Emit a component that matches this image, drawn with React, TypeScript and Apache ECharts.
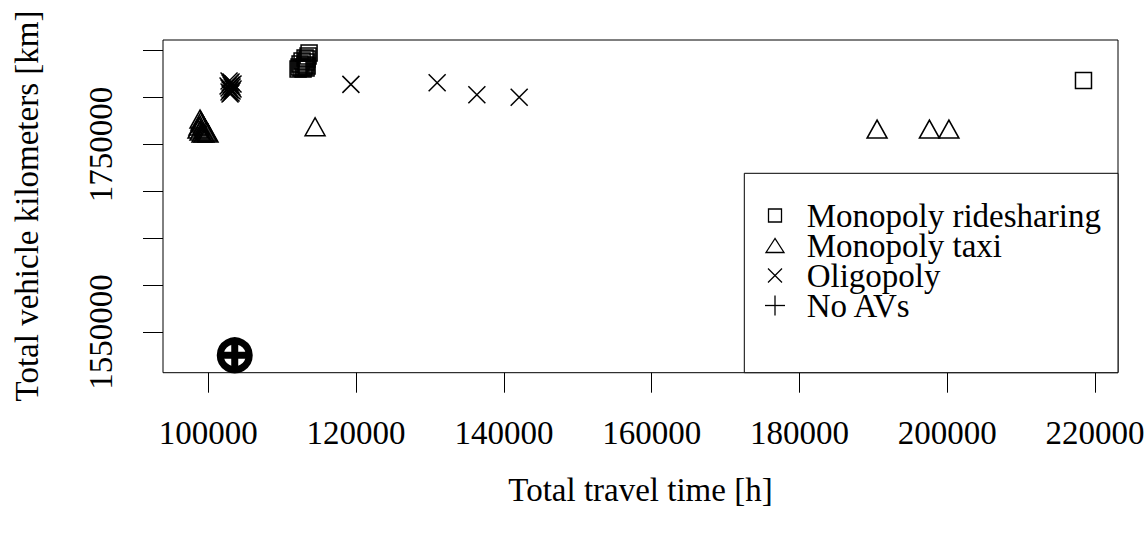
import React, { useEffect, useRef } from "react";
import * as echarts from "echarts";

const FONT = "'Liberation Serif', 'Times New Roman', serif";

// Monopoly ridesharing
const ridesharingX = [113636, 113500, 113365, 113229, 113094, 112959, 112823, 112552, 112282, 112146, 112417, 112688, 113229, 113365, 113094, 218443];
const ridesharingY = [1847441, 1844243, 1841045, 1837846, 1834648, 1832516, 1830384, 1831450, 1832516, 1830384, 1835714, 1838913, 1831450, 1833582, 1842111, 1818100];

// Monopoly taxi
const taxiX = [98876, 99012, 99147, 99283, 99418, 99553, 99689, 99824, 99959, 98605, 98741, 98876, 99147, 99418, 114448, 190508, 197590, 200230];
const taxiY = [1777079, 1774947, 1772814, 1770682, 1768550, 1766418, 1764286, 1763220, 1762154, 1766418, 1769616, 1764286, 1762154, 1762154, 1768870, 1766418, 1766418, 1766418];

// Oligopoly
const oligopolyX = [102803, 102938, 103074, 103209, 103344, 103209, 103074, 102938, 102803, 102803, 103074, 103344, 102668, 102938, 119296, 130968, 136344, 142072];
const oligopolyY = [1817591, 1815458, 1813326, 1811194, 1809062, 1806930, 1804797, 1803731, 1805864, 1810128, 1816525, 1814392, 1812260, 1807996, 1814072, 1815778, 1802985, 1800320];

// No AVs
const noAVsX = [103575];
const noAVsY = [1525160];

const xTicks = [100000, 120000, 140000, 160000, 180000, 200000, 220000];
const yTicks = [1550000, 1600000, 1650000, 1700000, 1750000, 1800000, 1850000];
const yTickLabels = [1550000, 1750000];

const legendNames = ["Monopoly ridesharing", "Monopoly taxi", "Oligopoly", "No AVs"];

const pairs = (xs: number[], ys: number[]) => xs.map((x, i) => [x, ys[i]]);

const X_PATH = "path://M0,0L10,10M10,0L0,10";
const PLUS_PATH = "path://M5,0L5,10M0,5L10,5";

export default function App() {
  const ref = useRef<HTMLDivElement>(null);
  useEffect(() => {
    if (!ref.current) return;
    const chart = echarts.init(ref.current, null, { renderer: "svg" });
    const stroke = { color: "rgba(0,0,0,0)", borderColor: "#000", borderWidth: 1.5, opacity: 1 };
    const lx = 744.3, ly = 173.3;
    const rowY = [215.5, 245.5, 275.5, 305.5];
    const symX = 775;
    const legendGraphics: any[] = [
      { type: "rect", shape: { x: lx, y: ly, width: 1118 - lx, height: 372.7 - ly }, style: { fill: "#fff", stroke: "#000", lineWidth: 1 }, z: 10 },
      { type: "rect", shape: { x: symX - 6.5, y: rowY[0] - 6.5, width: 13, height: 13 }, style: { fill: "none", stroke: "#000", lineWidth: 1.3 }, z: 11 },
      { type: "polygon", shape: { points: [[symX, rowY[1] - 7], [symX - 9, rowY[1] + 7], [symX + 9, rowY[1] + 7]] }, style: { fill: "none", stroke: "#000", lineWidth: 1.3 }, z: 11 },
      { type: "line", shape: { x1: symX - 7, y1: rowY[2] - 7, x2: symX + 7, y2: rowY[2] + 7 }, style: { stroke: "#000", lineWidth: 1.3 }, z: 11 },
      { type: "line", shape: { x1: symX + 7, y1: rowY[2] - 7, x2: symX - 7, y2: rowY[2] + 7 }, style: { stroke: "#000", lineWidth: 1.3 }, z: 11 },
      { type: "line", shape: { x1: symX - 10, y1: rowY[3], x2: symX + 10, y2: rowY[3] }, style: { stroke: "#000", lineWidth: 1.3 }, z: 11 },
      { type: "line", shape: { x1: symX, y1: rowY[3] - 10, x2: symX, y2: rowY[3] + 10 }, style: { stroke: "#000", lineWidth: 1.3 }, z: 11 },
      {
        type: "text",
        x: 806.7,
        y: (rowY[0] + rowY[3]) / 2,
        z: 11,
        style: { text: legendNames.join("\n"), font: `33px ${FONT}`, lineHeight: 30, fill: "#000", textAlign: "left", textVerticalAlign: "middle" },
      },
    ];
    chart.setOption({
      animation: false,
      backgroundColor: "#fff",
      grid: { left: 163, top: 40, right: 30, bottom: 160.3, show: true, borderColor: "#000", borderWidth: 1, backgroundColor: "transparent" },
      xAxis: {
        type: "value",
        min: 93866,
        max: 223114,
        axisLine: { show: false },
        splitLine: { show: false },
        axisTick: { show: true, length: 20, customValues: xTicks, lineStyle: { color: "#000", width: 1 } },
        axisLabel: { customValues: xTicks, fontSize: 33, fontFamily: FONT, color: "#000", margin: 44, formatter: (v: number) => String(v) },
      },
      yAxis: {
        type: "value",
        min: 1506600,
        max: 1861400,
        axisLine: { show: false },
        splitLine: { show: false },
        axisTick: { show: true, length: 20, customValues: yTicks, lineStyle: { color: "#000", width: 1 } },
        axisLabel: { customValues: yTickLabels, rotate: 90, fontSize: 33, fontFamily: FONT, color: "#000", margin: 46, formatter: (v: number) => String(v) },
      },
      graphic: [
        { type: "text", x: 640.5, y: 490, style: { text: "Total travel time [h]", font: `33px ${FONT}`, fill: "#000", textAlign: "center", textVerticalAlign: "middle" } },
        { type: "text", x: 27, y: 206, rotation: Math.PI / 2, style: { text: "Total vehicle kilometers [km]", font: `33px ${FONT}`, fill: "#000", textAlign: "center", textVerticalAlign: "middle" } },
        ...legendGraphics,
      ],
      series: [
        { type: "scatter", name: "Monopoly ridesharing", silent: true, symbol: "rect", symbolSize: 16, data: pairs(ridesharingX, ridesharingY), itemStyle: stroke },
        { type: "scatter", name: "Monopoly taxi", silent: true, symbol: "triangle", symbolSize: [20, 18], data: pairs(taxiX, taxiY), itemStyle: stroke },
        { type: "scatter", name: "Oligopoly", silent: true, symbol: X_PATH, symbolSize: 17, data: pairs(oligopolyX, oligopolyY), itemStyle: stroke },
        { type: "scatter", name: "No AVs ring", silent: true, symbol: "circle", symbolSize: 29, data: pairs(noAVsX, noAVsY), itemStyle: { color: "#fff", borderColor: "#000", borderWidth: 7, opacity: 1 } },
        { type: "scatter", name: "No AVs", silent: true, symbol: PLUS_PATH, symbolSize: 30, data: pairs(noAVsX, noAVsY), itemStyle: { color: "rgba(0,0,0,0)", borderColor: "#000", borderWidth: 7, opacity: 1 } },
      ],
    });
    return () => chart.dispose();
  }, []);
  return <div ref={ref} style={{ position: "absolute", left: 0, top: 0, width: 1148, height: 533 }} />;
}
